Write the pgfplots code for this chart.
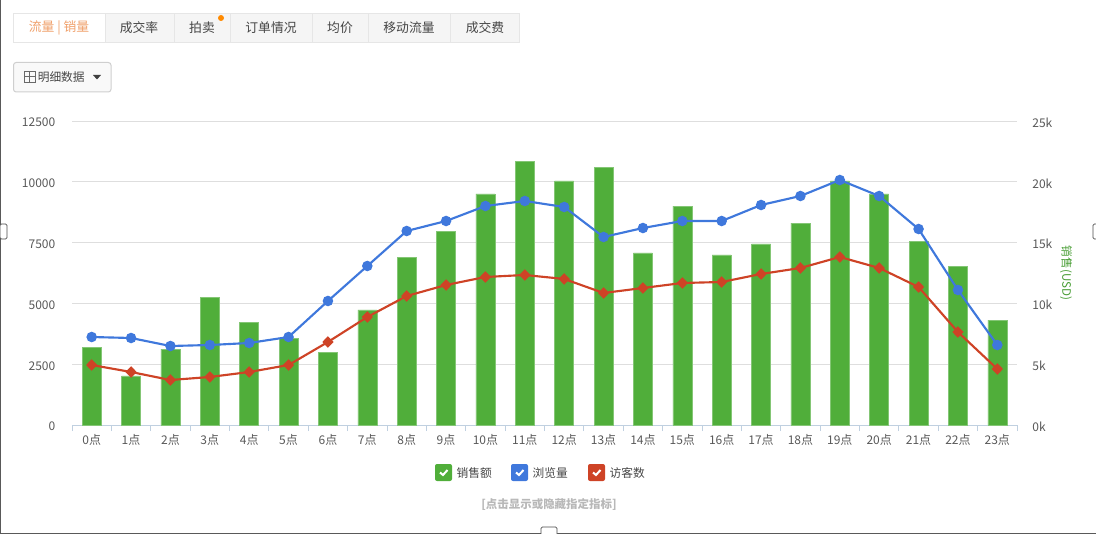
\documentclass[border=0pt]{standalone}
\usepackage{fontspec}
\setmainfont{Noto Sans CJK SC}
\usepackage{pgfplots}
\usepackage{pgfplotstable}
\pgfplotsset{compat=1.18}
\definecolor{bargreen}{HTML}{50AE3A}
\definecolor{lineblue}{HTML}{3F78DC}
\definecolor{linered}{HTML}{CE4326}
\definecolor{gridgray}{HTML}{DEDEDE}
\definecolor{axisblue}{HTML}{C0D0E0}
\definecolor{ticktext}{HTML}{585858}
\definecolor{tabfill}{HTML}{F5F5F5}
\definecolor{tabline}{HTML}{E6E6E6}
\definecolor{tabactive}{HTML}{F0A06A}

% hour, sales (USD), views, visitors
\pgfplotstableread{
h sales views visitors
0 6400 3618 2467
1 4030 3577 2179
2 6250 3248 1850
3 10500 3289 1974
4 8470 3372 2179
5 7150 3618 2467
6 6000 5099 3413
7 9460 6538 4441
8 13800 7977 5304
9 15950 8388 5757
10 19000 9005 6086
11 21700 9211 6168
12 20070 8964 6004
13 21200 7730 5428
14 14150 8100 5633
15 18000 8388 5839
16 14000 8388 5880
17 14900 9046 6209
18 16600 9416 6456
19 20070 10074 6908
20 19000 9416 6456
21 15100 8059 5674
22 13070 5551 3824
23 8630 3289 2303
}\hourdata

\pgfplotsset{common/.style={
  scale only axis, width=708.75pt, height=228pt,
  anchor=south west, at={(54pt,-318.75pt)},
  xmin=-0.5, xmax=23.5,
  ticklabel style={font=\fontsize{9pt}{10pt}\selectfont, text=ticktext},
  /pgf/number format/assume math mode=true,
  /pgf/number format/1000 sep={},
  scaled y ticks=false,
  y axis line style={draw=none},
  major tick length=0pt,
}}

\newcommand{\tab}[3]{\node[font=\fontsize{9.6pt}{11pt}\selectfont, text=#3] at (#1,28) {#2};}
\newcommand{\checkbox}[3]{%
  \fill[#2, rounded corners=1.5pt] (#1,464) rectangle ++(17,17);
  \draw[white, line width=1.5pt] (#1+5,472.5) -- (#1+8,475) -- (#1+12.5,470);
  \node[anchor=west, font=\fontsize{8.8pt}{10pt}\selectfont, text=ticktext!80!black] at (#1+17,473.5) {#3};}

\begin{document}
\begin{tikzpicture}[x=0.75pt, y=-0.75pt]
\useasboundingbox (0,0) rectangle (1096,534);

% tab bar
\fill[tabfill] (13,13) rectangle (520,42);
\fill[white] (13,13) rectangle (105,42);
\draw[tabline, line width=0.75pt] (13.5,13.5) rectangle (519.5,42.5);
\foreach \sx in {105,174,230,312,368,450} \draw[tabline, line width=0.75pt] (\sx,13.5) -- (\sx,42.5);
\tab{59}{流量 | 销量}{tabactive}
\tab{139}{成交率}{ticktext!80!black}
\tab{202}{拍卖}{ticktext!80!black}
\tab{271}{订单情况}{ticktext!80!black}
\tab{340}{均价}{ticktext!80!black}
\tab{409}{移动流量}{ticktext!80!black}
\tab{485}{成交费}{ticktext!80!black}
\fill[orange!80!yellow!90!red] (221,18) circle[radius=3];

% details button
\draw[tabline!90!black, fill=tabfill!60!white, rounded corners=2pt, line width=0.75pt] (13.5,62.5) rectangle (111,92);
\draw[ticktext!90!white, line width=0.5pt] (24,71.5) rectangle (35,82) (29.5,71.5) -- (29.5,82) (24,76.75) -- (35,76.75);
\node[anchor=west, inner sep=0pt, font=\fontsize{8.8pt}{10pt}\selectfont, text=ticktext!80!black] at (37.5,77) {明细数据};
\fill[black!75] (93,75) -- (101,75) -- (97,79.5) -- cycle;

% sales bars on the right scale, with the grid
\begin{axis}[common,
  axis x line*=bottom, axis y line*=right,
  x axis line style={draw=axisblue, line width=0.75pt},
  ymin=0, ymax=25000,
  ytick={0,5000,10000,15000,20000,25000},
  yticklabels={0k,5k,10k,15k,20k,25k},
  ymajorgrids, grid style={gridgray, line width=0.75pt},
  y tick label style={xshift=8pt, yshift=-1.2pt},
  xtick={0,...,23},
  xticklabels={0点,1点,2点,3点,4点,5点,6点,7点,8点,9点,10点,11点,12点,13点,14点,15点,16点,17点,18点,19点,20点,21点,22点,23点},
  x tick label style={yshift=-3.75pt},
  extra x ticks={-0.5,0.5,...,23.5},
  extra x tick labels={},
  extra x tick style={major tick length=4.5pt, tick align=outside, tick style={draw=axisblue, line width=0.75pt}},
  ylabel={销售(USD)},
  every axis y label/.style={at={(axis description cs:1.052,0.5)}, rotate=-90, anchor=center,
    font=\fontsize{8.7pt}{10pt}\selectfont, text=bargreen!90!black},
]
\addplot[ybar, bar shift=0pt, bar width=14.25pt, fill=bargreen, draw=bargreen!70!white, line width=0.3pt] table[x=h, y=sales] {\hourdata};
\end{axis}

% views and visitors on the left scale
\begin{axis}[common,
  axis x line=none, axis y line*=left,
  clip=false,
  ymin=0, ymax=12500,
  ytick={0,2500,5000,7500,10000,12500},
  y tick label style={xshift=-9pt, yshift=-1.2pt},
]
\addplot[lineblue, line width=1.6pt, mark=*, mark size=3.1pt, mark options={fill=lineblue, draw=none}] table[x=h, y=views] {\hourdata};
\addplot[linered, line width=1.6pt, mark=diamond*, mark size=3.2pt, mark options={fill=linered, draw=none, xscale=1.3}] table[x=h, y=visitors] {\hourdata};
\end{axis}

% legend
\checkbox{435}{bargreen}{销售额}
\checkbox{511}{lineblue}{浏览量}
\checkbox{588}{linered}{访客数}
\node[font=\bfseries\fontsize{8.6pt}{10pt}\selectfont, text=black!28] at (549,505) {[点击显示或隐藏指定指标]};

% window frame and resize handles
\draw[black!65, line width=0.75pt] (0.5,0) -- (0.5,533.5) -- (1096,533.5);
\foreach \hx/\hy/\hw/\hh in {0/224/7/15, 1093/224/6/15, 541/527/16/10}
  \draw[black!70, fill=white, rounded corners=1pt, line width=0.6pt] (\hx,\hy) rectangle ++(\hw,\hh);
\end{tikzpicture}
\end{document}
